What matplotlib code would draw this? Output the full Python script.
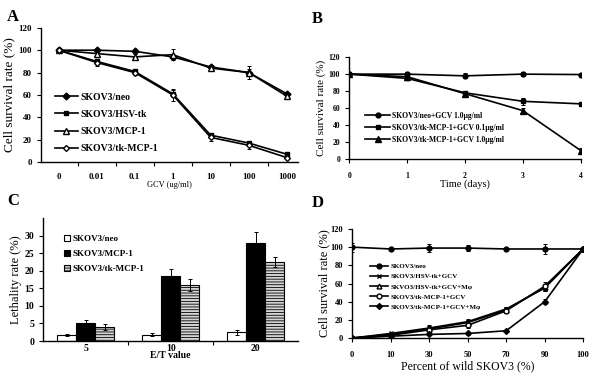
import numpy as np
import matplotlib
matplotlib.use("Agg")
import matplotlib.pyplot as plt

plt.rcParams["font.family"] = ["Liberation Serif", "DejaVu Serif"]
plt.rcParams["hatch.linewidth"] = 0.6

# panel A: survival vs GCV dose
gcv_labels = ["0", "0.01", "0.1", "1", "10", "100", "1000"]
a_neo = [100, 100, 99, 94, 85, 80, 61]
a_neo_err = [0, 1, 1, 2, 2, 3, 2]
a_hsv = [100, 90, 81, 61, 24, 17, 7]
a_hsv_err = [0, 2, 2, 3, 2, 2, 1]
a_mcp = [100, 97, 94, 96, 84, 80, 59]
a_mcp_err = [0, 2, 3, 5, 3, 6, 2]
a_tk = [100, 89, 80, 60, 22, 15, 4]
a_tk_err = [0, 3, 2, 5, 3, 3, 1]

# panel B: survival vs time
days = [0, 1, 2, 3, 4]
b_neo = [100, 100, 98, 100, 99.5]
b_neo_err = [1, 2, 3, 2, 1]
b_low = [100, 95, 78, 68, 65]
b_low_err = [1, 2, 2, 4, 2]
b_high = [100, 97, 77, 57, 10]
b_high_err = [1, 2, 2, 3, 3]

# panel C: lethality vs E/T
et_labels = ["5", "10", "20"]
c_neo = [1.7, 1.8, 2.5]
c_neo_err = [0.3, 0.4, 0.7]
c_mcp = [5.0, 18.5, 28.0]
c_mcp_err = [1.0, 2.0, 3.0]
c_tk = [3.9, 16.0, 22.5]
c_tk_err = [0.9, 1.8, 1.4]

# panel D: bystander effect
pct_labels = ["0", "10", "30", "50", "70", "90", "100"]
d_neo = [100, 98, 99, 99, 98, 98, 98]
d_neo_err = [5, 1, 4, 3, 1, 5, 2]
d_hsv = [0, 5, 11, 18, 32, 55, 98]
d_hsv_err = [1, 1, 3, 3, 2, 3, 2]
d_hsv_m = [0, 4, 10, 17, 31, 56, 98]
d_hsv_m_err = [1, 1, 3, 3, 2, 3, 2]
d_tk = [0, 3, 9, 14, 30, 57, 98]
d_tk_err = [1, 1, 2, 3, 2, 5, 2]
d_tk_m = [0, 2, 4, 5, 8, 40, 98]
d_tk_m_err = [1, 3, 1, 2, 1, 3, 2]


def style_axes(ax, tick_size):
    for s in ["top", "right"]:
        ax.spines[s].set_visible(False)
    ax.spines["left"].set_linewidth(1.0)
    ax.spines["bottom"].set_linewidth(1.0)
    ax.tick_params(direction="out", length=3, width=0.8, labelsize=tick_size)
    for lab in ax.get_xticklabels() + ax.get_yticklabels():
        lab.set_fontweight("bold")


def line(ax, x, y, err, marker, face, ms, label):
    # error bars drawn apart so the legend keys show only line + marker
    ax.errorbar(x, y, yerr=err, fmt="none", ecolor="black",
                elinewidth=0.7, capsize=1.5, capthick=0.7)
    ax.plot(x, y, color="black", marker=marker, mfc=face, mec="black",
            ms=ms, lw=1.2, label=label)


fig = plt.figure(figsize=(6, 3.76), dpi=100)

# ---- A
ax = fig.add_axes([0.068, 0.569, 0.429, 0.357])
xa = np.arange(len(gcv_labels))
line(ax, xa, a_neo, a_neo_err, "D", "black", 3.5, "SKOV3/neo")
line(ax, xa, a_hsv, a_hsv_err, "s", "black", 2.8, "SKOV3/HSV-tk")
line(ax, xa, a_mcp, a_mcp_err, "^", "white", 4.5, "SKOV3/MCP-1")
line(ax, xa, a_tk, a_tk_err, "D", "white", 3, "SKOV3/tk-MCP-1")
ax.set_xlim(-0.47, 6.3)
ax.set_ylim(0, 120)
ax.set_yticks(range(0, 121, 20))
ax.set_xticks(xa)
ax.set_xticklabels(gcv_labels)
ax.set_xticks(xa[:-1] + 0.5, minor=True)
style_axes(ax, 6.5)
ax.tick_params(axis="x", which="major", length=0, pad=8)
ax.tick_params(axis="x", which="minor", direction="out", length=3, width=0.8)
ax.set_ylabel("Cell survival rate (%)", fontsize=9.5, labelpad=2)
ax.set_xlabel("GCV (ug/ml)", fontsize=6, labelpad=0)
ax.legend(loc="lower left", bbox_to_anchor=(0.02, 0.0), frameon=False,
          prop={"weight": "bold", "size": 7}, handlelength=2.4,
          labelspacing=0.85, handletextpad=0.2)
fig.text(0.012, 0.955, "A", fontsize=12, fontweight="bold", va="center")

# ---- B
ax = fig.add_axes([0.582, 0.577, 0.386, 0.271])
line(ax, days, b_neo, b_neo_err, "o", "black", 3.5, "SKOV3/neo+GCV 1.0\u03bcg/ml")
line(ax, days, b_low, b_low_err, "s", "black", 3.5, "SKOV3/tk-MCP-1+GCV 0.1\u03bcg/ml")
line(ax, days, b_high, b_high_err, "^", "black", 4, "SKOV3/tk-MCP-1+GCV 1.0\u03bcg/ml")
ax.set_xlim(0, 4)
ax.set_ylim(0, 120)
ax.set_yticks(range(0, 121, 20))
ax.set_xticks(days)
style_axes(ax, 5.5)
ax.tick_params(axis="x", pad=6)
ax.set_ylabel("Cell survival rate (%)", fontsize=8, labelpad=2)
ax.set_xlabel("Time (days)", fontsize=7.5, labelpad=0)
ax.legend(loc="lower left", bbox_to_anchor=(0.04, 0.08), frameon=False,
          prop={"weight": "bold", "size": 5.5}, handlelength=3.2,
          labelspacing=0.55, handletextpad=0.3)
fig.text(0.52, 0.95, "B", fontsize=12, fontweight="bold", va="center")

# ---- C
ax = fig.add_axes([0.072, 0.093, 0.425, 0.327])
xc = np.arange(len(et_labels))
w = 0.225
ekw = dict(elinewidth=0.7, capsize=1.5, capthick=0.7, ecolor="black")
ax.bar(xc - w, c_neo, w, yerr=c_neo_err, color="white", edgecolor="black",
       lw=0.8, error_kw=ekw, label="SKOV3/neo")
ax.bar(xc, c_mcp, w, yerr=c_mcp_err, color="black", edgecolor="black",
       lw=0.8, error_kw=ekw, label="SKOV3/MCP-1")
ax.bar(xc + w, c_tk, w, yerr=c_tk_err, color="#d4d4d4", edgecolor="black",
       hatch="------", lw=0.8, error_kw=ekw, label="SKOV3/tk-MCP-1")
ax.set_xlim(-0.5, 2.5)
ax.set_ylim(0, 35)
ax.set_yticks(range(0, 31, 5))
ax.set_xticks(xc)
ax.set_xticklabels(et_labels)
ax.set_xticks([0.5, 1.5], minor=True)
style_axes(ax, 7)
ax.tick_params(axis="x", which="major", length=0, pad=2)
ax.tick_params(axis="x", which="minor", direction="out", length=3, width=0.8)
ax.set_ylabel("Lethality rate (%)", fontsize=9, labelpad=2)
ax.set_xlabel("E/T value", fontsize=7, fontweight="bold", labelpad=-1)
ax.legend(loc="upper left", bbox_to_anchor=(0.05, 0.93), frameon=False,
          prop={"weight": "bold", "size": 6.5}, handlelength=0.7, handleheight=0.7,
          labelspacing=0.75, handletextpad=0.2)
fig.text(0.012, 0.465, "C", fontsize=12, fontweight="bold", va="center")

# ---- D
ax = fig.add_axes([0.587, 0.101, 0.385, 0.29])
xd = np.arange(len(pct_labels))
line(ax, xd, d_neo, d_neo_err, "o", "black", 3.5, "SKOV3/neo")
line(ax, xd, d_hsv, d_hsv_err, "x", "black", 3.5, "SKOV3/HSV-tk+GCV")
line(ax, xd, d_hsv_m, d_hsv_m_err, "^", "white", 3.5, "SKVO3/HSV-tk+GCV+M\u03c6")
line(ax, xd, d_tk, d_tk_err, "o", "white", 3.5, "SKOV3/tk-MCP-1+GCV")
line(ax, xd, d_tk_m, d_tk_m_err, "D", "black", 3, "SKOV3/tk-MCP-1+GCV+M\u03c6")
ax.set_xlim(0, 6)
ax.set_ylim(0, 120)
ax.set_yticks(range(0, 121, 20))
ax.set_xticks(xd)
ax.set_xticklabels(pct_labels)
style_axes(ax, 6)
ax.tick_params(axis="x", pad=6)
ax.set_ylabel("Cell survival rate (%)", fontsize=9, labelpad=0)
ax.set_xlabel("Percent of wild SKOV3 (%)", fontsize=8.5, labelpad=1)
ax.legend(loc="upper left", bbox_to_anchor=(0.05, 0.74), frameon=False,
          prop={"weight": "bold", "size": 5}, handlelength=2.6,
          labelspacing=0.6, handletextpad=0.3)
fig.text(0.52, 0.46, "D", fontsize=12, fontweight="bold", va="center")

fig.savefig("out.png", dpi=100)
